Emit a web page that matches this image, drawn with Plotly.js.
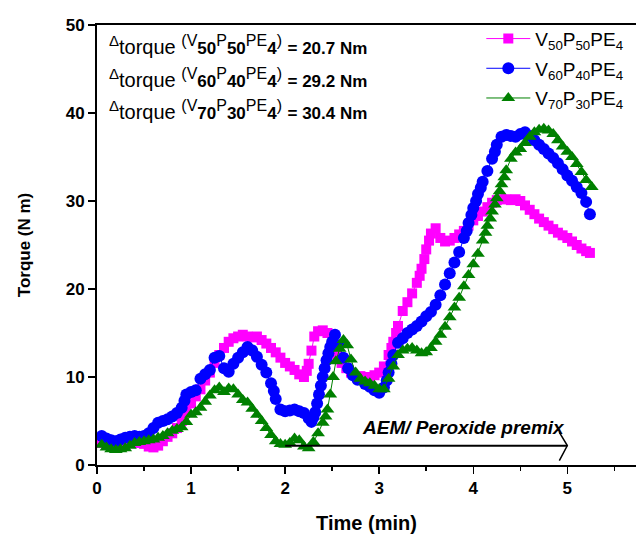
<!DOCTYPE html>
<html>
<head>
<meta charset="utf-8">
<script src="https://cdn.plot.ly/plotly-3.0.1.min.js"></script>
<style>html,body{margin:0;padding:0;background:#fff;}#chart{width:636px;height:537px;}</style>
</head>
<body>
<div id="chart"></div>
<script>
// ---- data ----
const seriesNames = [
  'V<sub>50</sub>P<sub>50</sub>PE<sub>4</sub>',
  'V<sub>60</sub>P<sub>40</sub>PE<sub>4</sub>',
  'V<sub>70</sub>P<sub>30</sub>PE<sub>4</sub>'
];

const timeA = [0.05,0.1,0.2,0.3,0.4,0.5,0.55,0.6,0.65,0.7,0.75,0.8,0.85,0.9,0.95,1.0,1.05,1.1,1.15,1.2,1.25,1.3,1.35,1.4,1.45,1.5,1.55,1.6,1.65,1.7,1.75,1.8,1.85,1.9,1.95,2.0,2.05,2.1,2.15,2.2,2.23,2.25,2.28,2.31,2.35,2.4,2.45,2.5,2.55,2.6,2.65,2.7,2.8,2.9,2.95,3.0,3.05,3.1,3.13,3.15,3.18,3.2,3.25,3.3,3.35,3.4,3.43,3.45,3.48,3.5,3.53,3.55,3.6,3.65,3.7,3.75,3.8,3.85,3.9,3.95,4.0,4.05,4.1,4.15,4.2,4.25,4.3,4.35,4.4,4.45,4.5,4.55,4.6,4.65,4.7,4.75,4.8,4.85,4.9,4.95,5.0,5.05,5.1,5.15,5.2,5.24];
const torqueA = [2.5,2.3,2.1,2.3,2.5,2.4,2.1,2.0,2.2,2.7,3.2,3.6,4.2,5.0,6.0,7.0,7.8,8.6,9.6,10.5,11.6,12.5,13.3,14.0,14.4,14.6,14.8,14.6,14.5,14.6,14.2,13.8,13.3,12.8,12.2,11.6,11.2,10.8,10.3,10.0,10.7,11.5,13.0,14.6,15.2,15.3,15.0,13.8,12.6,11.6,11.0,10.5,10.1,10.0,10.2,10.5,11.2,12.5,13.3,14.0,15.0,15.8,17.5,18.5,19.5,20.7,21.5,22.3,23.4,24.5,25.5,26.3,26.9,25.8,25.4,25.5,25.8,26.2,26.6,27.2,27.8,28.3,28.8,29.3,29.8,30.1,30.2,30.2,30.1,30.2,30.0,29.5,29.0,28.5,28.0,27.6,27.2,26.8,26.4,26.1,25.8,25.4,25.0,24.6,24.3,24.1];

const timeB = [0.05,0.1,0.15,0.2,0.25,0.3,0.35,0.4,0.45,0.5,0.55,0.6,0.65,0.7,0.75,0.8,0.85,0.9,0.93,0.95,1.0,1.05,1.1,1.15,1.2,1.25,1.3,1.35,1.4,1.45,1.5,1.55,1.6,1.65,1.7,1.75,1.8,1.85,1.88,1.9,1.95,2.0,2.05,2.1,2.15,2.2,2.25,2.28,2.3,2.32,2.34,2.36,2.38,2.4,2.42,2.44,2.46,2.48,2.5,2.53,2.57,2.62,2.67,2.72,2.77,2.85,2.9,2.95,3.0,3.05,3.08,3.1,3.13,3.15,3.2,3.25,3.3,3.35,3.4,3.45,3.5,3.55,3.6,3.65,3.7,3.75,3.8,3.85,3.9,3.93,3.95,3.98,4.0,4.03,4.05,4.08,4.1,4.15,4.2,4.23,4.25,4.3,4.35,4.4,4.45,4.5,4.55,4.6,4.65,4.7,4.75,4.8,4.85,4.9,4.95,5.0,5.05,5.1,5.15,5.2,5.24];
const torqueB = [3.3,3.0,2.8,2.7,2.9,3.1,3.2,3.3,3.2,3.3,3.6,4.2,4.8,5.0,5.2,5.5,5.9,6.5,7.3,8.0,8.3,8.5,9.8,10.3,10.8,12.2,12.4,11.0,10.6,11.5,12.2,12.8,13.4,13.0,12.3,11.4,10.5,9.3,8.4,7.5,6.3,6.1,6.2,6.3,6.1,5.9,5.3,4.9,5.4,6.0,7.0,8.0,9.0,10.0,11.0,11.9,12.7,13.4,14.0,14.8,13.6,12.2,11.0,10.2,9.7,9.2,8.9,8.5,8.2,8.8,9.6,10.5,11.5,12.5,13.9,14.4,15.0,15.4,15.8,16.3,16.9,17.4,18.2,19.3,20.5,21.8,23.0,24.2,25.8,26.6,27.5,28.4,29.2,30.0,30.8,31.5,32.2,33.4,34.8,35.6,36.4,37.3,37.5,37.4,37.3,37.6,37.8,37.4,36.9,36.4,35.9,35.4,34.9,34.3,33.6,32.9,32.3,31.6,30.9,29.9,28.5];

const timeC = [0.05,0.1,0.15,0.2,0.25,0.3,0.35,0.4,0.45,0.5,0.55,0.6,0.65,0.7,0.75,0.8,0.85,0.9,0.95,1.0,1.05,1.1,1.15,1.2,1.25,1.3,1.35,1.4,1.45,1.5,1.55,1.6,1.65,1.7,1.75,1.8,1.85,1.9,1.95,2.0,2.05,2.1,2.15,2.2,2.25,2.3,2.35,2.4,2.43,2.45,2.48,2.51,2.54,2.58,2.62,2.66,2.7,2.75,2.8,2.85,2.9,2.95,3.0,3.05,3.1,3.15,3.2,3.25,3.3,3.35,3.4,3.45,3.5,3.55,3.6,3.65,3.7,3.75,3.8,3.85,3.9,3.95,4.0,4.05,4.1,4.13,4.15,4.18,4.2,4.23,4.25,4.28,4.3,4.33,4.35,4.4,4.45,4.5,4.55,4.6,4.65,4.7,4.75,4.8,4.85,4.9,4.95,5.0,5.05,5.1,5.15,5.2,5.26];
const torqueC = [2.3,2.0,1.8,1.7,1.8,1.9,2.2,2.5,2.6,2.7,2.8,2.9,3.1,3.3,3.6,3.9,4.1,4.3,4.9,5.7,6.0,6.5,7.2,7.9,8.5,8.8,8.3,8.7,8.6,8.0,7.4,7.1,6.4,5.7,5.0,4.2,3.4,2.7,2.4,2.3,2.5,3.0,2.8,2.1,1.9,2.6,3.6,4.8,5.5,6.3,8.0,10.0,11.8,13.2,14.2,13.6,12.0,10.5,9.8,9.5,9.3,9.0,8.6,8.6,9.8,11.2,12.5,13.0,13.2,13.3,13.0,12.7,12.8,13.3,14.0,14.8,15.7,16.8,17.9,19.0,20.3,21.6,22.8,24.0,25.5,26.4,27.2,28.0,28.8,29.6,30.3,31.1,31.9,32.7,33.5,34.8,35.5,35.9,36.6,37.3,37.8,38.1,38.2,38.0,37.6,36.9,36.2,35.6,35.0,34.2,33.3,32.4,31.6];

const xTickVals = [0,1,2,3,4,5];
const yTickVals = [0,10,20,30,40,50];
const deltaLabels = [
  {comp: ['50','50','4'], value: '20.7'},
  {comp: ['60','40','4'], value: '29.2'},
  {comp: ['70','30','4'], value: '30.4'}
];
const premixLabel = 'AEM/ Peroxide premix';
const premixStart = 2, premixEnd = 5, premixLevel = 2.2;

// ---- styling ----
const FONT = 'Liberation Sans, Arial, sans-serif';
const colors = ['#ff00ff', '#0000ff', '#008000'];
const symbols = ['square', 'circle', 'triangle-up'];
const sizes = [10, 12, 12];
const times = [timeA, timeB, timeC];
const vals = [torqueA, torqueB, torqueC];

const traces = vals.map((v, i) => ({
  x: times[i], y: v, type: 'scatter', mode: 'lines+markers',
  name: seriesNames[i], legendgroup: 'g' + i,
  line: {color: colors[i], width: 1},
  marker: {color: colors[i], symbol: symbols[i], size: sizes[i], line: {width: 0}}
}));

const linePx = [45, 78, 110];
const sp = (t, s, b) => '<span style="font-size:' + s + 'px' + (b ? ';font-weight:bold' : '') + '">' + t + '</span>';
const annotations = deltaLabels.map((d, i) => ({
  xref: 'paper', yref: 'paper', x: 0.019, y: (465 - linePx[i]) / 440,
  xanchor: 'left', yanchor: 'middle', showarrow: false, align: 'left',
  font: {family: FONT, size: 20, color: '#000'},
  text: '<sup>' + sp('Δ', 15) + '</sup>torque <sup>' + sp('(V', 16) + '</sup>' + sp(d.comp[0], 17, true) +
        '<sup>' + sp('P', 16) + '</sup>' + sp(d.comp[1], 17, true) +
        '<sup>' + sp('PE', 16) + '</sup>' + sp(d.comp[2], 17, true) +
        '<sup>' + sp(')', 16) + '</sup> ' + sp('= ' + d.value + ' Nm', 17, true)
}));
annotations.push({
  xref: 'x', yref: 'y', x: 2.8, y: 4.3, xanchor: 'left', yanchor: 'middle', showarrow: false,
  text: '<b><i>' + premixLabel + '</i></b>',
  font: {family: FONT, size: 19, color: '#000'}
});

const shapes = [
  {type: 'line', xref: 'x', yref: 'y', x0: premixStart, x1: premixEnd, y0: premixLevel, y1: premixLevel,
   line: {color: '#000', width: 2}},
  {type: 'path', xref: 'x', yref: 'y',
   path: `M ${premixEnd - 0.085},${premixLevel + 1.5} L ${premixEnd},${premixLevel} L ${premixEnd - 0.085},${premixLevel - 1.7}`,
   line: {color: '#000', width: 1.5}}
];

const layout = {
  width: 636, height: 537,
  margin: {l: 97, r: 0, t: 25, b: 72, pad: 0},
  paper_bgcolor: '#fff', plot_bgcolor: '#fff',
  font: {family: FONT, color: '#000'},
  showlegend: true,
  legend: {x: 0.713, y: 1.012, xanchor: 'left', yanchor: 'top', bgcolor: 'rgba(0,0,0,0)',
           font: {family: FONT, size: 19, color: '#000'}, tracegroupgap: 2, itemwidth: 44},
  xaxis: {
    range: [0, 5.73], tickvals: xTickVals, ticktext: xTickVals.map(String),
    ticks: 'outside', ticklen: 7, tickwidth: 1.5, tickcolor: '#000',
    minor: {dtick: 0.5, ticks: 'outside', ticklen: 4, tickwidth: 1.5, tickcolor: '#000'},
    showline: true, linecolor: '#000', linewidth: 2, mirror: true,
    showgrid: false, zeroline: false,
    tickfont: {family: FONT, size: 17, weight: 'bold', color: '#000'},
    title: {text: 'Time (min)', font: {family: FONT, size: 20, weight: 'bold', color: '#000'}, standoff: 19}
  },
  yaxis: {
    range: [0, 50], tickvals: yTickVals, ticktext: yTickVals.map(String),
    ticks: 'outside', ticklen: 7, tickwidth: 1.5, tickcolor: '#000',
    showline: true, linecolor: '#000', linewidth: 2, mirror: false,
    showgrid: false, zeroline: false,
    tickfont: {family: FONT, size: 17, weight: 'bold', color: '#000'},
    title: {text: 'Torque (N m)', font: {family: FONT, size: 17, weight: 'bold', color: '#000'}, standoff: 31}
  },
  annotations: annotations,
  shapes: shapes
};

Plotly.newPlot('chart', traces, layout, {displayModeBar: false, staticPlot: true});
</script>
</body>
</html>
